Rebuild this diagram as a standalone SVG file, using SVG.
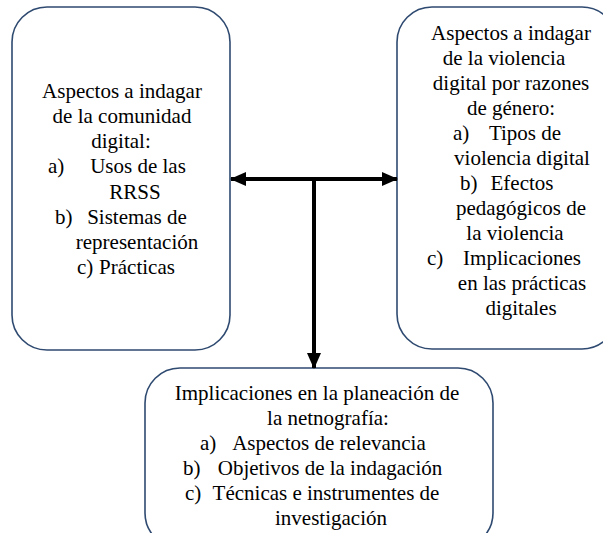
<svg xmlns="http://www.w3.org/2000/svg" width="603" height="533" viewBox="0 0 603 533">
<defs>
<marker id="ah" markerUnits="userSpaceOnUse" markerWidth="16" markerHeight="14" refX="15" refY="7" orient="auto-start-reverse">
<path d="M0,0 L16,7 L0,14 Z" fill="#000"/>
</marker>
</defs>
<rect width="603" height="533" fill="#fff"/>
<g id="node-comunidad" font-family="Liberation Serif, serif" font-size="21" fill="#000">
<rect x="12" y="7" width="218" height="343" rx="35" fill="#fff" stroke="#2f4a70" stroke-width="1.6"/>
<text text-anchor="middle" x="122" y="98">Aspectos a indagar</text>
<text text-anchor="middle" x="122" y="123">de la comunidad</text>
<text text-anchor="middle" x="121" y="148">digital:</text>
<text x="48" y="173">a)</text>
<text text-anchor="middle" x="138" y="173">Usos de las</text>
<text text-anchor="middle" x="135" y="199">RRSS</text>
<text x="55" y="224">b)</text>
<text text-anchor="middle" x="137" y="224">Sistemas de</text>
<text text-anchor="middle" x="137" y="249">representación</text>
<text x="77" y="274">c)</text>
<text text-anchor="middle" x="137" y="274">Prácticas</text>
</g>
<g id="node-violencia" font-family="Liberation Serif, serif" font-size="21" fill="#000">
<rect x="397" y="7" width="220" height="342" rx="35" fill="#fff" stroke="#2f4a70" stroke-width="1.6"/>
<text text-anchor="middle" x="511" y="40">Aspectos a indagar</text>
<text text-anchor="middle" x="504" y="65">de la violencia</text>
<text text-anchor="middle" x="511" y="90">digital  por razones</text>
<text text-anchor="middle" x="511" y="115">de género:</text>
<text x="453" y="140">a)</text>
<text text-anchor="middle" x="525" y="140">Tipos de</text>
<text text-anchor="middle" x="522" y="165">violencia digital</text>
<text x="460" y="190">b)</text>
<text text-anchor="middle" x="522" y="190">Efectos</text>
<text text-anchor="middle" x="521" y="215">pedagógicos de</text>
<text text-anchor="middle" x="515" y="240">la violencia</text>
<text x="427" y="265">c)</text>
<text text-anchor="middle" x="522" y="265">Implicaciones</text>
<text text-anchor="middle" x="522" y="290">en las prácticas</text>
<text text-anchor="middle" x="521" y="315">digitales</text>
</g>
<g id="node-implicaciones" font-family="Liberation Serif, serif" font-size="21" fill="#000">
<rect x="145" y="368" width="348" height="180" rx="35" fill="#fff" stroke="#2f4a70" stroke-width="1.6"/>
<text text-anchor="middle" x="317" y="400">Implicaciones en la planeación de</text>
<text text-anchor="middle" x="328" y="425">la netnografía:</text>
<text x="200" y="450">a)</text>
<text text-anchor="middle" x="329" y="450">Aspectos de relevancia</text>
<text x="183" y="475">b)</text>
<text text-anchor="middle" x="330" y="475">Objetivos de la indagación</text>
<text x="185" y="500">c)</text>
<text text-anchor="middle" x="326" y="500">Técnicas  e instrumentes de</text>
<text text-anchor="middle" x="331" y="525">investigación</text>
</g>
<g id="connectors" stroke="#000" stroke-width="4" fill="none">
<line x1="231" y1="179" x2="397" y2="179" marker-start="url(#ah)" marker-end="url(#ah)"/>
<line x1="314" y1="179" x2="314" y2="368" marker-end="url(#ah)"/>
</g>
</svg>
